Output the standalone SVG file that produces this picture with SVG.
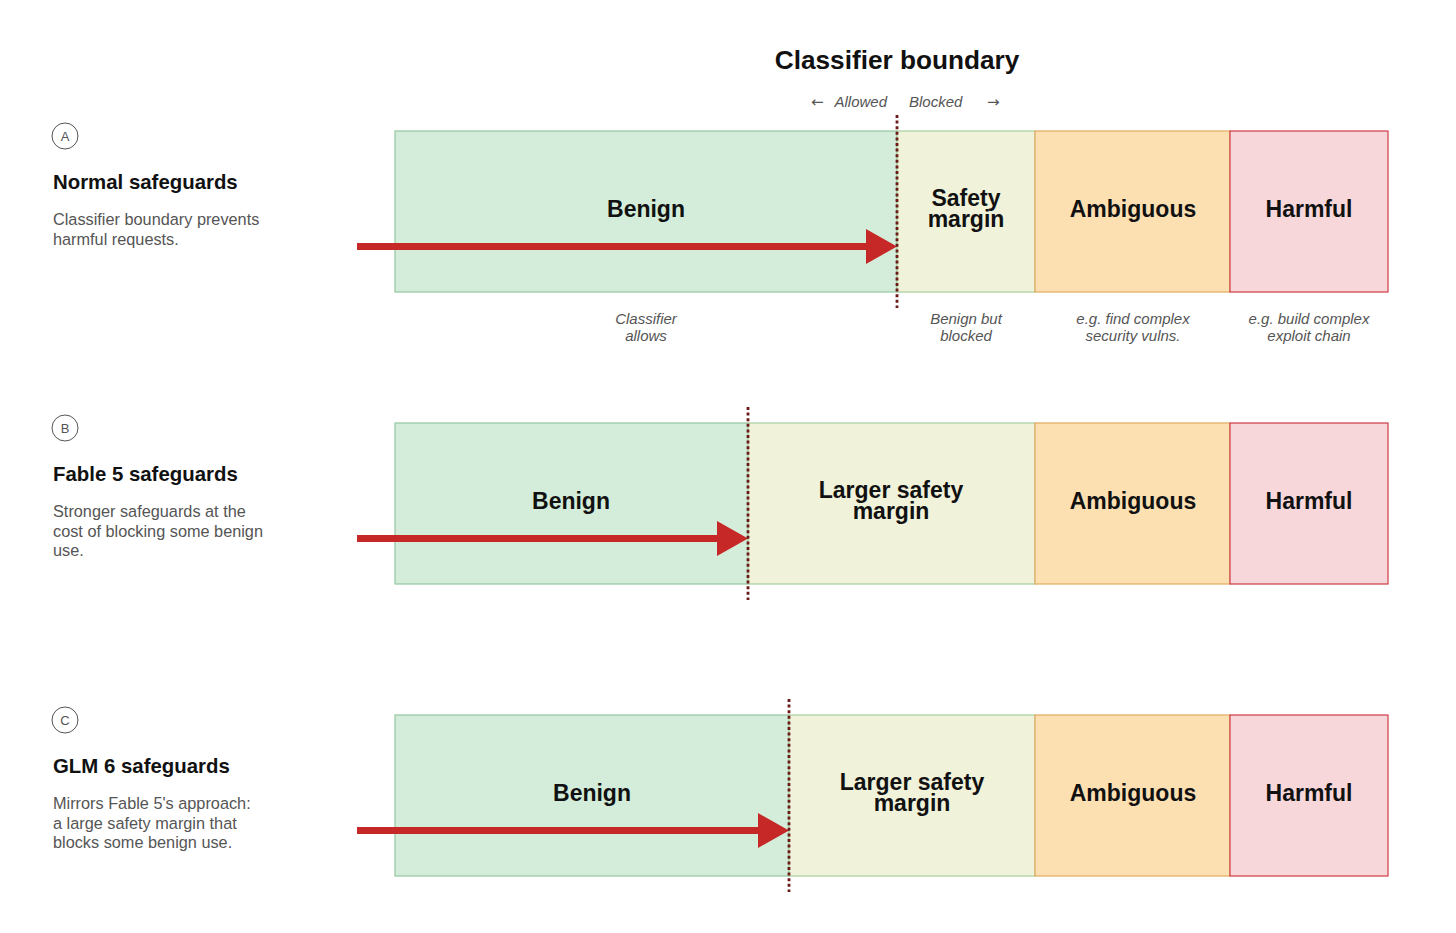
<svg xmlns="http://www.w3.org/2000/svg" width="1456" height="933" viewBox="0 0 1456 933">
<style>
text{font-family:"Liberation Sans",Arial,sans-serif}
.title{font-size:26.2px;font-weight:bold;fill:#111;text-anchor:middle}
.lbl{font-size:23px;font-weight:bold;fill:#111;text-anchor:middle}
.rt{font-size:20.4px;font-weight:bold;fill:#111}
.desc{font-size:16.3px;fill:#555}
.sub{font-size:15px;font-style:italic;fill:#555;text-anchor:middle}
.hint{font-size:15px;font-style:italic;fill:#555}
.arr{font-family:"DejaVu Sans",sans-serif;font-size:15px;fill:#555}
.circ{fill:#fff;stroke:#555;stroke-width:1}
.ctext{font-size:13px;fill:#555;text-anchor:middle}
.ben{fill:#d4edda;stroke:#93c69f;stroke-width:1.2}
.mar{fill:#f0f2da;stroke:#a6cf9e;stroke-width:1.2}
.amb{fill:#fde0b2;stroke:#e2aa5c;stroke-width:1.2}
.harm{fill:#f8d7da;stroke:#cc3d45;stroke-width:1.2}
.arrow{stroke:#c62828;stroke-width:7;fill:none}
.head{fill:#c62828}
.dot{stroke:#6b1a1a;stroke-width:2.8;stroke-dasharray:3 2.6;fill:none}
</style>
<rect width="1456" height="933" fill="#fff"/>
<g id="header">
<text class="title" x="897" y="69">Classifier boundary</text>
<text class="arr" x="811" y="107">←</text>
<text class="hint" x="887" y="107" text-anchor="end">Allowed</text>
<text class="hint" x="909" y="107">Blocked</text>
<text class="arr" x="987" y="107">→</text>
</g>

<g id="rowA-label">
<circle class="circ" cx="65" cy="136" r="13"/>
<text class="ctext" x="65" y="141">A</text>
<text class="rt" x="53" y="189">Normal safeguards</text>
<text class="desc" x="53" y="225"><tspan x="53">Classifier boundary prevents</tspan><tspan x="53" dy="20">harmful requests.</tspan></text>
</g>
<g id="rowA-benign"><rect class="ben" x="395" y="131" width="502" height="161"/><text class="lbl" x="646" y="217">Benign</text></g>
<g id="rowA-margin"><rect class="mar" x="897" y="131" width="138" height="161"/><text class="lbl" x="966" y="206"><tspan x="966">Safety</tspan><tspan x="966" dy="21">margin</tspan></text></g>
<g id="rowA-ambiguous"><rect class="amb" x="1035" y="131" width="195" height="161"/><text class="lbl" x="1133" y="217">Ambiguous</text></g>
<g id="rowA-harmful"><rect class="harm" x="1230" y="131" width="158" height="161"/><text class="lbl" x="1309" y="217">Harmful</text></g>
<g id="rowA-notes">
<text class="sub" x="646" y="324"><tspan x="646">Classifier</tspan><tspan x="646" dy="17">allows</tspan></text>
<text class="sub" x="966" y="324"><tspan x="966">Benign but</tspan><tspan x="966" dy="17">blocked</tspan></text>
<text class="sub" x="1133" y="324"><tspan x="1133">e.g. find complex</tspan><tspan x="1133" dy="17">security vulns.</tspan></text>
<text class="sub" x="1309" y="324"><tspan x="1309">e.g. build complex</tspan><tspan x="1309" dy="17">exploit chain</tspan></text>
</g>

<g id="rowB-label">
<circle class="circ" cx="65" cy="428" r="13"/>
<text class="ctext" x="65" y="433">B</text>
<text class="rt" x="53" y="481">Fable 5 safeguards</text>
<text class="desc" x="53" y="517"><tspan x="53">Stronger safeguards at the</tspan><tspan x="53" dy="19.5">cost of blocking some benign</tspan><tspan x="53" dy="19.5">use.</tspan></text>
</g>
<g id="rowB-benign"><rect class="ben" x="395" y="423" width="353" height="161"/><text class="lbl" x="571" y="509">Benign</text></g>
<g id="rowB-margin"><rect class="mar" x="748" y="423" width="287" height="161"/><text class="lbl" x="891" y="498"><tspan x="891">Larger safety</tspan><tspan x="891" dy="21">margin</tspan></text></g>
<g id="rowB-ambiguous"><rect class="amb" x="1035" y="423" width="195" height="161"/><text class="lbl" x="1133" y="509">Ambiguous</text></g>
<g id="rowB-harmful"><rect class="harm" x="1230" y="423" width="158" height="161"/><text class="lbl" x="1309" y="509">Harmful</text></g>

<g id="rowC-label">
<circle class="circ" cx="65" cy="720" r="13"/>
<text class="ctext" x="65" y="725">C</text>
<text class="rt" x="53" y="773">GLM 6 safeguards</text>
<text class="desc" x="53" y="809"><tspan x="53">Mirrors Fable 5's approach:</tspan><tspan x="53" dy="19.5">a large safety margin that</tspan><tspan x="53" dy="19.5">blocks some benign use.</tspan></text>
</g>
<g id="rowC-benign"><rect class="ben" x="395" y="715" width="394" height="161"/><text class="lbl" x="592" y="801">Benign</text></g>
<g id="rowC-margin"><rect class="mar" x="789" y="715" width="246" height="161"/><text class="lbl" x="912" y="790"><tspan x="912">Larger safety</tspan><tspan x="912" dy="21">margin</tspan></text></g>
<g id="rowC-ambiguous"><rect class="amb" x="1035" y="715" width="195" height="161"/><text class="lbl" x="1133" y="801">Ambiguous</text></g>
<g id="rowC-harmful"><rect class="harm" x="1230" y="715" width="158" height="161"/><text class="lbl" x="1309" y="801">Harmful</text></g>

<g id="connectors">
<line class="arrow" x1="357" y1="246.5" x2="868" y2="246.5"/>
<polygon class="head" points="866,229 897,246.5 866,264"/>
<line class="dot" x1="897" y1="115" x2="897" y2="308"/>

<line class="arrow" x1="357" y1="538.5" x2="719" y2="538.5"/>
<polygon class="head" points="717,521 748,538.5 717,556"/>
<line class="dot" x1="748" y1="407" x2="748" y2="600"/>

<line class="arrow" x1="357" y1="830.5" x2="760" y2="830.5"/>
<polygon class="head" points="758,813 789,830.5 758,848"/>
<line class="dot" x1="789" y1="699" x2="789" y2="892"/>
</g>
</svg>
